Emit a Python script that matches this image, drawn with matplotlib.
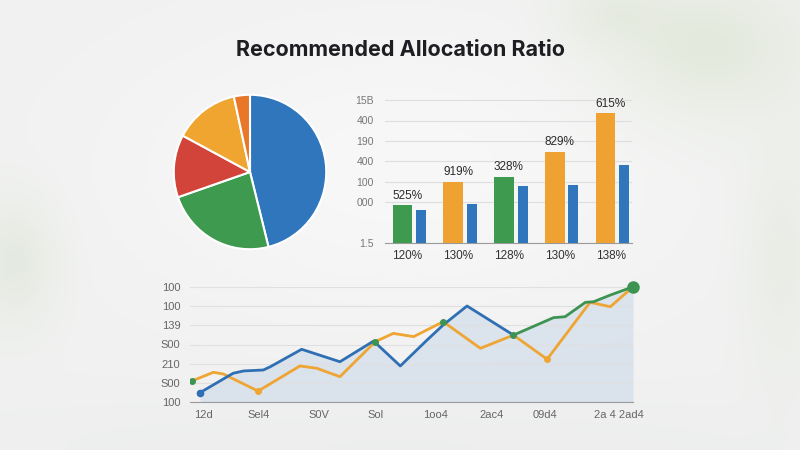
import numpy as np
import matplotlib
matplotlib.use("Agg")
import matplotlib.pyplot as plt

plt.rcParams['font.family'] = ['Liberation Sans', 'DejaVu Sans']

title = "Recommended Allocation Ratio"

# pie (clockwise from 12 o'clock)
pie_shares = [46.1, 23.6, 13.1, 13.8, 3.4]
pie_colors = ["#2f76bd", "#3e9a4f", "#d2443a", "#efa52f", "#e8772a"]

# bars
bar_groups = ["120%", "130%", "128%", "130%", "138%"]
bar_main = [1.84, 3.0, 3.25, 4.45, 6.35]
bar_side = [1.64, 1.93, 2.77, 2.85, 3.83]
bar_main_colors = ["#3e9a4f", "#efa232", "#3e9a4f", "#efa232", "#efa232"]
bar_value_labels = ["525%", "919%", "328%", "829%", "615%"]
bar_yticks = [0, 2, 3, 4, 5, 6, 7]
bar_ytick_labels = ["1.5", "000", "100", "400", "190", "400", "15B"]

# lines
line_xlabels = ["12d", "Sel4", "S0V", "Sol", "1oo4", "2ac4", "09d4", "2a 4 2ad4"]
line_yticks = [0, 1, 2, 3, 4, 5, 6]
line_ytick_labels = ["100", "S00", "210", "S00", "139", "100", "100"]
blue_x = [-0.05, 0.52, 0.70, 1.04, 1.16, 1.70, 2.36, 2.94, 3.40, 3.86, 4.14, 4.55, 5.35]
blue_y = [0.49, 1.50, 1.62, 1.67, 1.84, 2.75, 2.10, 3.18, 1.88, 3.23, 4.02, 5.01, 3.49]
green_x = [5.35, 6.04, 6.24, 6.59, 6.73, 7.02, 7.41]
green_y = [3.49, 4.40, 4.45, 5.20, 5.23, 5.58, 6.01]
orange_x = [-0.19, 0.18, 0.35, 0.95, 1.67, 1.96, 2.36, 2.97, 3.28, 3.63, 4.14, 4.78, 5.35, 5.93, 6.67, 7.02, 7.41]
orange_y = [1.10, 1.55, 1.46, 0.57, 1.88, 1.76, 1.32, 3.15, 3.58, 3.41, 4.19, 2.80, 3.49, 2.23, 5.20, 4.97, 6.01]

BLUE = "#2f6fb3"
ORANGE = "#eea534"
GREEN = "#3d9452"

fig = plt.figure(figsize=(8, 4.5), dpi=100)

# soft blurred-photo style background
H, W = 450, 800
yy, xx = np.mgrid[0:H, 0:W]
bg = np.ones((H, W, 3)) * np.array([240, 241, 240]) / 255.0
def blob(cx, cy, sx, sy, col, w):
    g = w * np.exp(-(((xx - cx) / sx) ** 2 + ((yy - cy) / sy) ** 2))
    return g[..., None], np.array(col) / 255.0
for cx, cy, sx, sy, col, w in [
    (700, 50, 100, 70, (208, 220, 190), 0.45),
    (610, 15, 50, 35, (212, 222, 198), 0.35),
    (780, 250, 35, 110, (214, 224, 202), 0.3),
    (15, 260, 40, 60, (205, 218, 192), 0.35),
    (400, 170, 280, 150, (250, 250, 250), 0.75),
    (400, 445, 500, 50, (232, 233, 233), 0.4),
]:
    g, c = blob(cx, cy, sx, sy, col, w)
    bg = bg * (1 - g) + c * g
bgax = fig.add_axes([0, 0, 1, 1], zorder=-10)
bgax.imshow(np.clip(bg, 0, 1), aspect="auto", extent=[0, 1, 0, 1])
bgax.axis("off")

fig.text(0.5, 1 - 50 / 450, title, ha="center", va="center",
         fontsize=15.5, fontweight="bold", color="#1d1d22", family=["Inter", "DejaVu Sans"])

# pie
pax = fig.add_axes([173 / 800, 1 - 250 / 450, 154 / 800, 156 / 450])
pax.pie(pie_shares, colors=pie_colors, startangle=90, counterclock=False,
        wedgeprops=dict(edgecolor="white", linewidth=1.5))
pax.set_aspect("auto")
pax.set_xlim(-1.01, 1.01)
pax.set_ylim(-1.01, 1.01)
pax.patch.set_alpha(0)

# bars
bax = fig.add_axes([385 / 800, 1 - 243 / 450, 247 / 800, 147 / 450])
bax.patch.set_alpha(0)
gx = np.arange(len(bar_groups))
bax.bar(gx, bar_main, width=0.39, color=bar_main_colors, zorder=3)
bax.bar(gx + 0.365, bar_side, width=0.2, color="#2f76bd", zorder=3)
for x, v, lab in zip(gx, bar_main, bar_value_labels):
    bax.text(x - 0.2, v + 0.18, lab, ha="left", va="bottom", fontsize=8.5, color="#2a2a2a")
bax.set_xlim(-0.345, 4.52)
bax.set_ylim(0, 7.2)
bax.set_yticks(bar_yticks)
bax.set_yticklabels(bar_ytick_labels)
bax.set_xticks(gx + 0.1)
bax.set_xticklabels(bar_groups)
bax.grid(axis="y", color="#dedede", linewidth=0.8, zorder=0)
for s in ["top", "right", "left"]:
    bax.spines[s].set_visible(False)
bax.spines["bottom"].set_color("#9a9a9a")
bax.tick_params(axis="y", length=0, labelsize=7.5, labelcolor="#777777", pad=8)
bax.tick_params(axis="x", length=0, labelsize=8.5, labelcolor="#333333", pad=5)

# lines
lax = fig.add_axes([190 / 800, 1 - 402 / 450, 443 / 800, 115 / 450])
lax.patch.set_alpha(0)
lax.fill_between(blue_x + green_x[1:], blue_y + green_y[1:], 0, color="#c9d7e8", alpha=0.55, lw=0, zorder=1)
lax.plot(orange_x, orange_y, color=ORANGE, lw=2, zorder=3, solid_joinstyle="round")
lax.plot(blue_x, blue_y, color=BLUE, lw=2, zorder=4, solid_joinstyle="round")
lax.plot(green_x, green_y, color=GREEN, lw=2, zorder=4, solid_joinstyle="round")
lax.plot(blue_x[0], blue_y[0], "o", color=BLUE, ms=4.5, zorder=5)
lax.plot([orange_x[3], orange_x[13]], [orange_y[3], orange_y[13]], "o", color=ORANGE, ms=4, zorder=5)
lax.plot([orange_x[0], orange_x[7], orange_x[10], green_x[0]], [orange_y[0], orange_y[7], orange_y[10], green_y[0]],
         "o", color=GREEN, ms=4, zorder=5)
lax.plot(green_x[-1], green_y[-1], "o", color=GREEN, ms=8, zorder=6, clip_on=False)
lax.set_xlim(-0.224, 7.41)
lax.set_ylim(0, 6)
lax.set_yticks(line_yticks)
lax.set_yticklabels(line_ytick_labels)
lax.set_xticks(np.arange(len(line_xlabels)) + np.array([0, -0.05, 0, -0.03, 0, -0.03, -0.1, 0.17]))
lax.set_xticklabels(line_xlabels)
lax.grid(axis="y", color="#e0e0e0", linewidth=0.8, zorder=0)
for s in ["top", "right", "left"]:
    lax.spines[s].set_visible(False)
lax.spines["bottom"].set_color("#9a9a9a")
lax.tick_params(axis="y", length=0, labelsize=8, labelcolor="#666666", pad=7)
lax.tick_params(axis="x", length=0, labelsize=8, labelcolor="#666666", pad=6)

fig.savefig("out.png", dpi=100)
